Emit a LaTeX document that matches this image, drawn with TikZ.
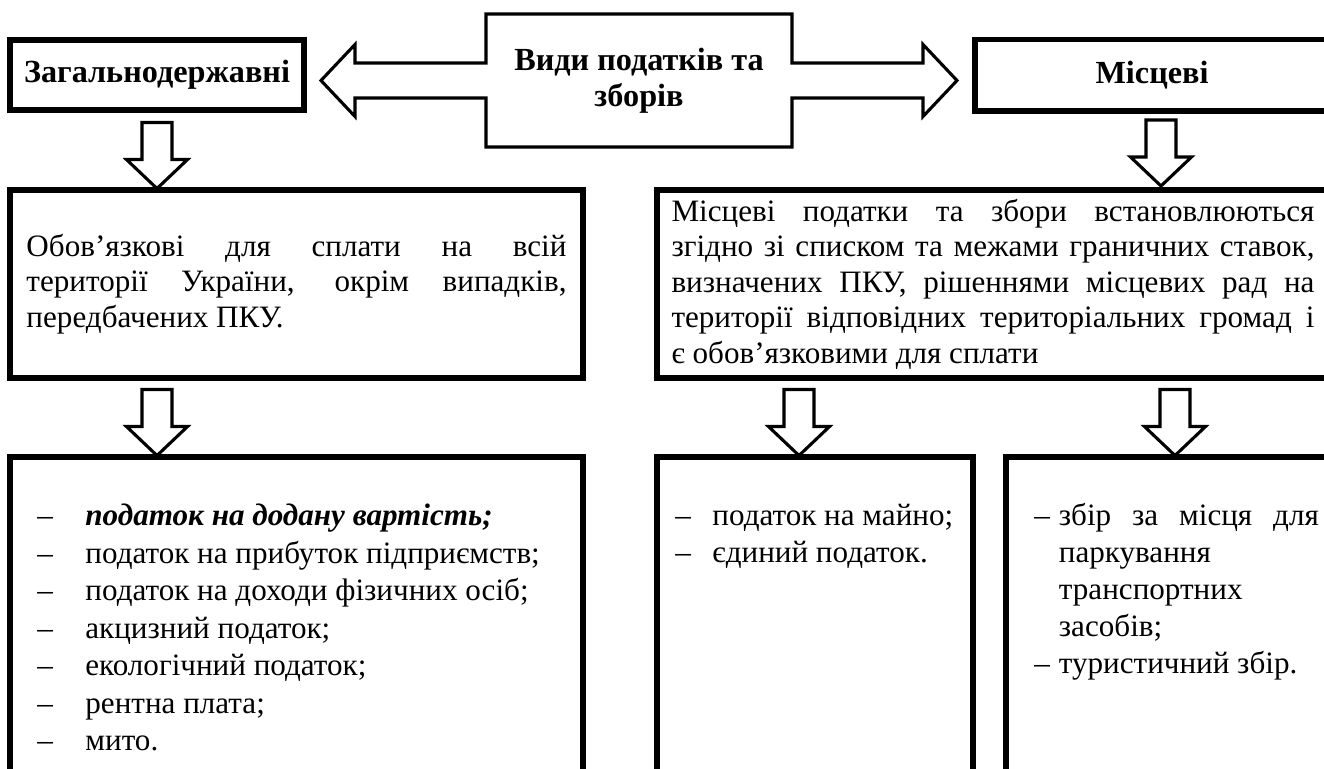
\documentclass[tikz,border=0pt]{standalone}
\usepackage{fontspec}
\setmainfont{Liberation Serif}
\usepackage{tikz}
\usetikzlibrary{calc}

\newcommand{\mainsize}{\fontsize{14}{16}\selectfont}

\tikzset{
	boxline/.style = {draw, line width = 2.3pt},
	tbox/.style = {boxline, inner sep = 0pt},
	title/.style = {font = \fontsize{14.5}{16}\selectfont\bfseries},
	hollow/.style = {draw, line width = 1.4pt},
	listline/.style = {anchor = base west, inner sep = 0pt},
	hollowdown/.pic = {
		\draw [hollow] (-15,0) -- (-15,37) -- (-30.5,37) -- (0,66) -- (30.5,37) -- (15,37) -- (15,0) -- cycle;
	}
}

\begin{document}
\begin{tikzpicture}[x = 0.45pt, y = -0.45pt, font = \mainsize]
		%page frame, one unit is one pixel of the screenshot
		\useasboundingbox (0,0) rectangle (1324,769);
		
		%widths of the justified lines
		\def\dutyW{243pt};
		\def\rulesW{289.35pt};
		\def\feeW{117pt};
		
		%top row
		\node [tbox, title, minimum width = 132.3pt, minimum height = 31.5pt] (state) at (157,75) {Загальнодержавні};
		\node [tbox, title, minimum width = 159.3pt, minimum height = 32pt] (local) at (1152,75.5) {Місцеві};
		\node [title, align = center, inner sep = 0pt] (kinds) at (639,80.5) {Види податків та\\зборів};
		
		%central box with two hollow arrows
		\draw [hollow] (486,14) -- (792,14) -- (792,63) -- (923,63) -- (923,44.5) -- (957,80.5) -- (923,116.5) -- (923,98)
			-- (792,98) -- (792,147) -- (486,147) -- (486,98) -- (355,98) -- (355,116.5) -- (321,80.5) -- (355,44.5)
			-- (355,63) -- (486,63) -- cycle;
		
		%middle row
		\node [tbox, minimum width = 257.85pt, minimum height = 84.6pt, text width = \dutyW, align = flush left] (duty) at (296.5,284) {%
			\makebox[\dutyW][s]{Обов’язкові для сплати на всій}\\
			\makebox[\dutyW][s]{території України, окрім випадків,}\\
			передбачених ПКУ.};
		\node [tbox, minimum width = 302.4pt, minimum height = 84.6pt, text width = \rulesW, align = flush left] (rules) at (993,284) {%
			\makebox[\rulesW][s]{Місцеві податки та збори встановлюються}\\
			\makebox[\rulesW][s]{згідно зі списком та межами граничних ставок,}\\
			\makebox[\rulesW][s]{визначених ПКУ, рішеннями місцевих рад на}\\
			\makebox[\rulesW][s]{території відповідних територіальних громад і}\\
			є обов’язковими для сплати};
		
		\pic at ($(state.south)+(0,10)$) {hollowdown};
		\pic at (1161,120) {hollowdown};
		
		%bottom row, open at the lower edge
		\draw [boxline] (10,457) rectangle (583,800);
		\draw [boxline] (657,457) rectangle (973,800);
		\draw [boxline] (1006,457) rectangle (1340,800);
		
		\pic at ($(state.south |- duty.south)+(0,9)$) {hollowdown};
		\pic at ($(799,0 |- rules.south)+(0,9)$) {hollowdown};
		\pic at ($(1175,0 |- rules.south)+(0,9)$) {hollowdown};
		
		%lists
		\foreach \txt [count = \i] in {\textbf{\textit{податок на додану вартість;}}, податок на прибуток підприємств;,
			податок на доходи фізичних осіб;, акцизний податок;, екологічний податок;, рентна плата;, мито.}
			\node [listline] (tax\i) at (37,488.5+37.5*\i) {\makebox[21.6pt][l]{–}\txt};
		
		\node [listline] (prop1) at (675,526) {\makebox[16.65pt][l]{–}податок на майно;};
		\node [listline] (prop2) at (675,563) {\makebox[16.65pt][l]{–}єдиний податок.};
		
		\node [listline] (fee1) at (1034,526) {\makebox[11pt][l]{–}\makebox[\feeW][s]{збір за місця для}};
		\node [listline] (fee2) at (1058.5,563) {паркування};
		\node [listline] (fee3) at (1058.5,600) {транспортних};
		\node [listline] (fee4) at (1058.5,637) {засобів;};
		\node [listline] (fee5) at (1034,674) {\makebox[11pt][l]{–}туристичний збір.};
	\end{tikzpicture}
\end{document}
